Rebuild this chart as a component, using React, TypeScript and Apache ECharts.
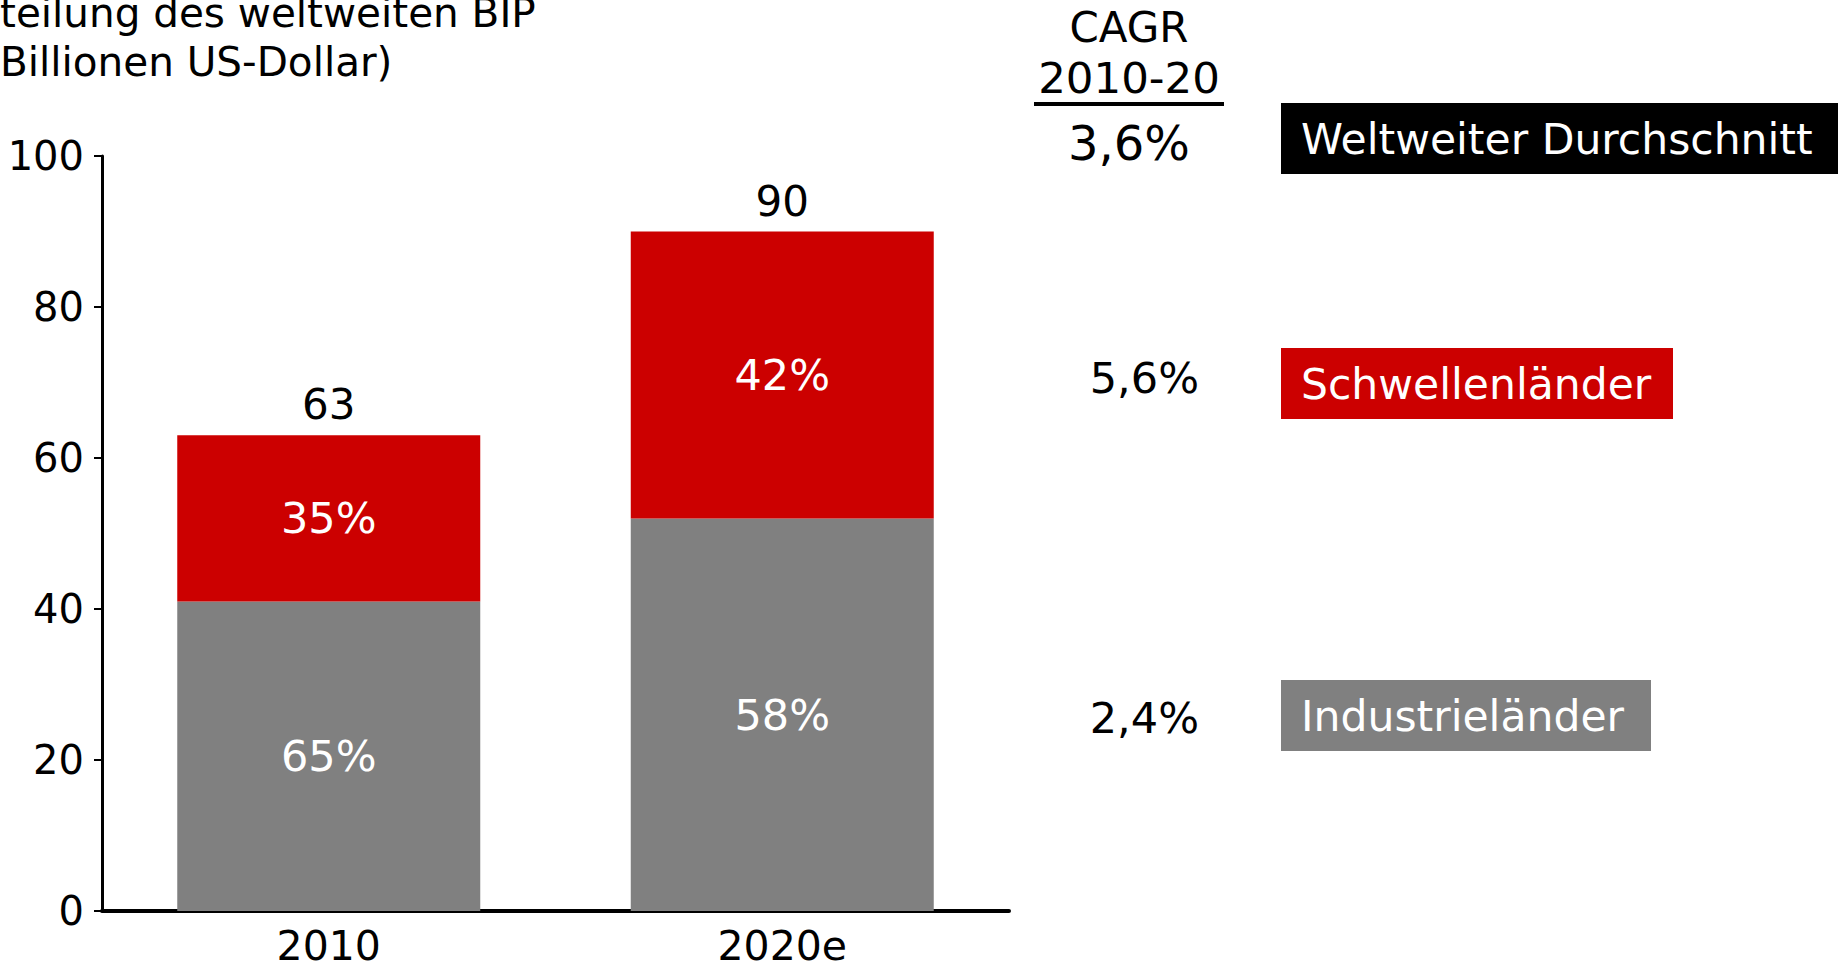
import React, { useEffect, useRef } from "react";
import * as echarts from "echarts";

const categories = ["2010", "2020e"];
const industrieValues = [41, 52];
const schwellenValues = [22, 38];
const totals = [63, 90];
const industrieShares = ["65%", "58%"];
const schwellenShares = ["35%", "42%"];
const yTicks = [0, 20, 40, 60, 80, 100];
const titleLines = ["teilung des weltweiten BIP", "Billionen US-Dollar)"];
const cagrHeader = ["CAGR", "2010-20"];
const cagrValues = ["3,6%", "5,6%", "2,4%"];
const legendNames = ["Weltweiter Durchschnitt", "Schwellenländer", "Industrieländer"];

const FONT = "DejaVu Sans";
const RED = "#cc0000";
const GREY = "#808080";

export default function App() {
  const ref = useRef<HTMLDivElement>(null);
  useEffect(() => {
    if (!ref.current) return;
    const chart = echarts.init(ref.current, null, { renderer: "svg" });
    const txt = (text: string, x: number, y: number, opts: any = {}) => ({
      type: "text",
      x,
      y,
      style: {
        text,
        fontFamily: FONT,
        fontSize: 40,
        fill: "#000",
        align: "left",
        verticalAlign: "middle",
        ...opts,
      },
    });
    const legendBox = (name: string, y: number, w: number, color: string) => ({
      type: "group",
      children: [
        { type: "rect", shape: { x: 1281, y, width: w, height: 71 }, style: { fill: color } },
        txt(name, 1301, y + 36, { fill: "#fff", fontSize: 42.5 }),
      ],
    });
    chart.setOption({
      animation: false,
      textStyle: { fontFamily: FONT },
      grid: {
        left: 102,
        right: 835,
        top: 156,
        bottom: 51,
        containLabel: false,
        outerBoundsMode: "none",
      },
      xAxis: {
        type: "category",
        data: categories,
        axisLine: { lineStyle: { color: "#000", width: 4 } },
        axisTick: { show: false },
        axisLabel: { color: "#000", fontSize: 41, fontFamily: FONT, margin: 14 },
      },
      yAxis: {
        type: "value",
        min: yTicks[0],
        max: yTicks[yTicks.length - 1],
        interval: 20,
        splitLine: { show: false },
        axisLine: { show: true, lineStyle: { color: "#000", width: 3 } },
        axisTick: { show: true, length: 8, lineStyle: { color: "#000", width: 2 } },
        axisLabel: { color: "#000", fontSize: 40, fontFamily: FONT, margin: 18 },
      },
      series: [
        {
          type: "bar",
          stack: "gdp",
          data: industrieValues,
          barWidth: 303,
          itemStyle: { color: GREY },
          label: {
            show: true,
            position: "inside",
            color: "#fff",
            fontSize: 43,
            fontFamily: FONT,
            formatter: (p: any) => industrieShares[p.dataIndex],
          },
        },
        {
          type: "bar",
          stack: "gdp",
          data: schwellenValues,
          barWidth: 303,
          itemStyle: { color: RED },
          label: {
            show: true,
            position: "inside",
            color: "#fff",
            fontSize: 43,
            fontFamily: FONT,
            formatter: (p: any) => schwellenShares[p.dataIndex],
          },
        },
        {
          type: "line",
          data: totals,
          symbol: "circle",
          symbolSize: 1,
          showSymbol: true,
          itemStyle: { color: "rgba(0,0,0,0)" },
          lineStyle: { width: 0, color: "rgba(0,0,0,0)" },
          label: {
            show: true,
            position: "top",
            distance: 9,
            color: "#000",
            fontSize: 42,
            fontFamily: FONT,
          },
        },
      ],
      graphic: [
        txt(titleLines[0], 0, 13, { fontSize: 40.5 }),
        txt(titleLines[1], 0, 62, { fontSize: 40.5 }),
        txt(cagrHeader[0], 1129, 27, { align: "center", fontSize: 42 }),
        txt(cagrHeader[1], 1129, 78, { align: "center", fontSize: 43.5 }),
        { type: "line", shape: { x1: 1034, y1: 104, x2: 1224, y2: 104 }, style: { stroke: "#000", lineWidth: 4 } },
        txt(cagrValues[0], 1129, 143, { align: "center", fontSize: 48 }),
        txt(cagrValues[1], 1199, 378, { align: "right", fontSize: 43 }),
        txt(cagrValues[2], 1199, 718, { align: "right", fontSize: 43 }),
        legendBox(legendNames[0], 103, 557, "#000"),
        legendBox(legendNames[1], 348, 392, RED),
        legendBox(legendNames[2], 680, 370, GREY),
      ],
    });
    return () => chart.dispose();
  }, []);
  return (
    <div
      ref={ref}
      style={{ position: "fixed", left: 0, top: 0, width: 1844, height: 962, background: "#fff" }}
    />
  );
}
